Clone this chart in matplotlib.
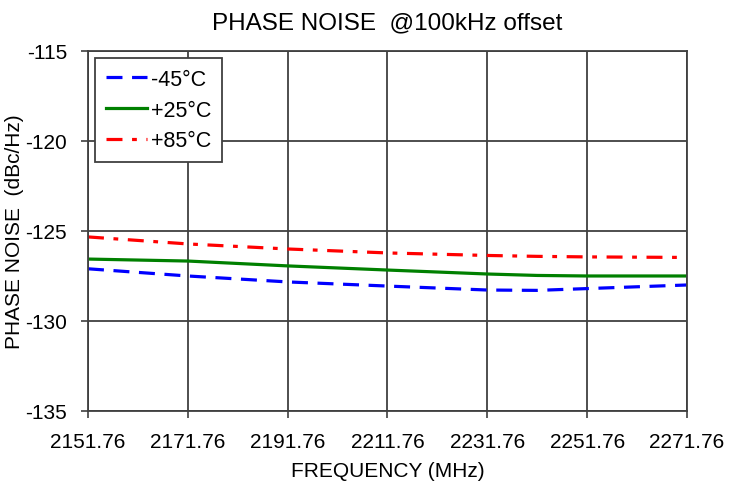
import numpy as np
import matplotlib
matplotlib.use("Agg")
import matplotlib.pyplot as plt

plt.rcParams['font.family'] = ['Liberation Sans', 'DejaVu Sans']
plt.rcParams['axes.unicode_minus'] = False

freq = [2151.76, 2171.76, 2191.76, 2211.76, 2231.76, 2241.76, 2251.76, 2271.76]
pn_m45 = [-127.1, -127.5, -127.83, -128.06, -128.28, -128.3, -128.2, -128.0]
pn_p25 = [-126.56, -126.67, -126.94, -127.17, -127.39, -127.47, -127.5, -127.5]
pn_p85 = [-125.33, -125.72, -126.0, -126.22, -126.36, -126.41, -126.44, -126.47]
xticks = [2151.76, 2171.76, 2191.76, 2211.76, 2231.76, 2251.76, 2271.76]

fig = plt.figure(figsize=(7.43, 4.89), dpi=100)
ax = fig.add_axes([0.1184, 0.1575, 0.8062, 0.7362])

ax.plot(freq, pn_m45, c="#0000ff", lw=2.3, dashes=(5, 3), label="-45°C")
ax.plot(freq, pn_p25, c="#008000", lw=2.3, label="+25°C")
ax.plot(freq, pn_p85, c="#ff0000", lw=2.3, dashes=(5, 3, 1.5, 3), label="+85°C")

ax.set_xlim(2151.76, 2271.76)
ax.set_ylim(-135, -115)
ax.set_xticks(xticks)
ax.set_xticklabels(["%.2f" % v for v in xticks])
ax.set_yticks(np.arange(-135, -114, 5))
ax.grid(True, c="#404040", lw=1.3)
ax.tick_params(labelsize=15, colors="black")
ax.tick_params(axis="x", direction="out", length=5, width=1.2, pad=10, color="#404040")
ax.tick_params(axis="y", direction="out", length=5, width=1.2, pad=10, color="#404040")
for s in ax.spines.values():
    s.set_color("#404040")
    s.set_linewidth(1.3)

ax.set_title("PHASE NOISE  @100kHz offset", fontsize=17.5, pad=16)
ax.set_xlabel("FREQUENCY (MHz)", fontsize=15, labelpad=7)
ax.set_ylabel("PHASE NOISE  (dBc/Hz)", fontsize=15, labelpad=1)

leg = ax.legend(loc="upper left", fontsize=15.5, fancybox=False, framealpha=1,
                edgecolor="#404040", handlelength=1.9, borderpad=0.5,
                labelspacing=0.45, handletextpad=0.2, borderaxespad=0,
                bbox_to_anchor=(0.012, 0.98))
leg.get_frame().set_linewidth(1.3)

fig.savefig("out.png", dpi=100)
